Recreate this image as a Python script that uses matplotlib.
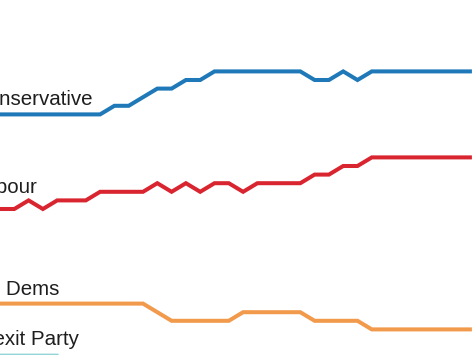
import matplotlib
matplotlib.use("Agg")
import matplotlib.pyplot as plt

parties = ["Conservative", "Labour", "Lib Dems", "Brexit Party"]
conservative = [36, 36, 36, 36, 36, 36, 36, 36, 37, 37, 38, 39, 39, 40, 40, 41, 41,
                41, 41, 41, 41, 41, 40, 40, 41, 40, 41, 41, 41, 41, 41, 41, 41, 41]
labour = [25, 25, 26, 25, 26, 26, 26, 27, 27, 27, 27, 28, 27, 28, 27, 28, 28,
          27, 28, 28, 28, 28, 29, 29, 30, 30, 31, 31, 31, 31, 31, 31, 31, 31]
libdems = [14, 14, 14, 14, 14, 14, 14, 14, 14, 14, 14, 13, 12, 12, 12, 12, 12,
           13, 13, 13, 13, 13, 12, 12, 12, 12, 11, 11, 11, 11, 11, 11, 11, 11]
brexit = [7.95, 7.95, 7.95, 7.95, 7.95, 7, 6, 6, 5, 5, 5, 5, 4, 4, 4, 4, 4,
          4, 4, 4, 4, 4, 4, 4, 4, 4, 3, 3, 3, 3, 3, 3, 3, 3]
# label anchor values (data y) for each party name
label_y = [37.05, 26.85, 14.95, 9.15]

colors = ["#1f78b8", "#d9252f", "#f29a4b", "#93d5d6"]
series = [conservative, labour, libdems, brexit]

fig = plt.figure(figsize=(4.73, 3.55), dpi=100)
ax = fig.add_axes([0, 0, 1, 1])
ax.set_facecolor("white")
fig.patch.set_facecolor("white")

x = list(range(len(conservative)))
for s, c in zip(series, colors):
    ax.plot(x, s, color=c, lw=2.9, solid_joinstyle="miter", solid_capstyle="butt")

px = 14.3  # pixels per index step
ax.set_xlim(0, 473 / px)
ax.set_ylim(25 - 146 / 8.6, 25 + 209 / 8.6)

for name, yv in zip(parties, label_y):
    ax.text(-27 / px, yv, name, fontsize=14.8, family=["Liberation Sans", "DejaVu Sans"],
            color="#1e1e1e", ha="left", va="baseline")

ax.axis("off")
fig.savefig("out.png", dpi=100, facecolor="white")
